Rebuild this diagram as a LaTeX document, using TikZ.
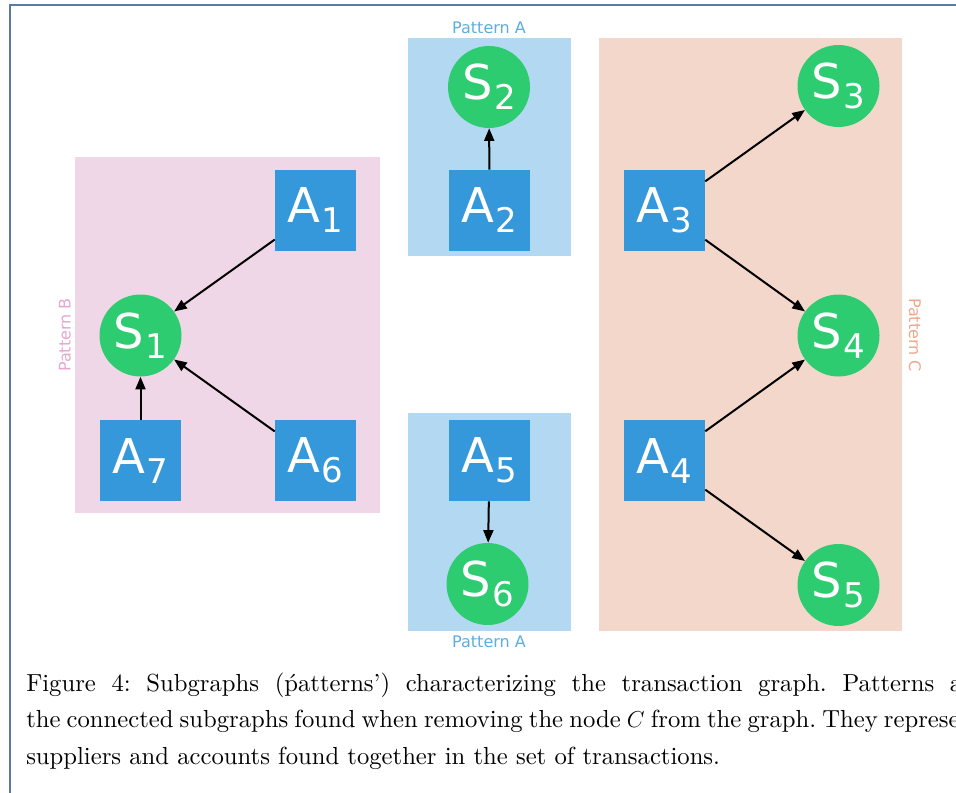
\documentclass[tikz,border=0pt]{standalone}
\usepackage{fontspec}
\newfontfamily\dejavu{DejaVu Sans}
\newfontfamily\capfont{lmroman10-regular.otf}[Ligatures=TeX]
\usetikzlibrary{arrows.meta}

\definecolor{acct}{HTML}{3498DB}
\definecolor{supp}{HTML}{2ECC71}
\definecolor{patA}{HTML}{B3D8F1}
\definecolor{patB}{HTML}{F0D7E8}
\definecolor{patC}{HTML}{F4D7CB}
\definecolor{labA}{HTML}{5DADE2}
\definecolor{labB}{HTML}{E6A6D0}
\definecolor{labC}{HTML}{EDA88C}
\definecolor{framecol}{HTML}{5A7AA6}

\newcommand{\nlabel}[2]{{\dejavu\fontsize{36}{36}\selectfont #1\kern1pt\raisebox{-7.5pt}{\fontsize{25.5}{25.5}\selectfont #2}}}

\tikzset{
  acctbox/.style={rectangle, fill=acct, text=white, minimum size=60.75pt, inner sep=0pt},
  suppnode/.style={circle, fill=supp, text=white, minimum size=61.5pt, inner sep=0pt},
  flow/.style={line width=1.5pt, -{Triangle[length=9.5pt,width=7.5pt]}},
  patlabel/.style={font=\dejavu\fontsize{12}{12}\selectfont, inner sep=0pt},
  captionline/.style={anchor=base west, inner sep=0pt, font=\capfont\fontsize{18.5}{27}\selectfont\frenchspacing}
}

\begin{document}
\begin{tikzpicture}[x=0.75pt, y=-0.75pt]
  \useasboundingbox (0,0) rectangle (956,792);
  \clip (0,0) rectangle (956,792);

  % frame
  \draw[framecol, line width=1.5pt] (9.5,800) -- (9.5,5.5) -- (960,5.5);

  % pattern backgrounds
  \fill[patB] (75,157) rectangle (380,513);
  \fill[patA] (408,38) rectangle (571,256);
  \fill[patA] (408,413) rectangle (571,631);
  \fill[patC] (599,38) rectangle (902,631);

  % pattern labels
  \node[patlabel, text=labA] (labA1) at (489,28) {Pattern A};
  \node[patlabel, text=labA] (labA2) at (489,642) {Pattern A};
  \node[patlabel, text=labB, rotate=90] (labB) at (65,335) {Pattern B};
  \node[patlabel, text=labC, rotate=-90] (labC) at (915,335) {Pattern C};

  % accounts
  \node[acctbox] (A1) at (315.5,210.5) {\nlabel{A}{1}};
  \node[acctbox] (A2) at (489.5,210.5) {\nlabel{A}{2}};
  \node[acctbox] (A3) at (664.5,210.5) {\nlabel{A}{3}};
  \node[acctbox] (A7) at (140.5,460.5) {\nlabel{A}{7}};
  \node[acctbox] (A6) at (315.5,460.5) {\nlabel{A}{6}};
  \node[acctbox] (A5) at (489.5,460.5) {\nlabel{A}{5}};
  \node[acctbox] (A4) at (664.5,460.5) {\nlabel{A}{4}};

  % suppliers
  \node[suppnode] (S2) at (489,87) {\nlabel{S}{2}};
  \node[suppnode] (S3) at (838.5,86) {\nlabel{S}{3}};
  \node[suppnode] (S1) at (140.5,335.5) {\nlabel{S}{1}};
  \node[suppnode] (S4) at (838.5,335.5) {\nlabel{S}{4}};
  \node[suppnode] (S6) at (487.5,584) {\nlabel{S}{6}};
  \node[suppnode] (S5) at (838.5,585) {\nlabel{S}{5}};

  % transactions
  \draw[flow] (A1) -- (S1);
  \draw[flow] (A6) -- (S1);
  \draw[flow] (A7) -- (S1);
  \draw[flow] (A2) -- (S2);
  \draw[flow] (A3) -- (S3);
  \draw[flow] (A3) -- (S4);
  \draw[flow] (A4) -- (S4);
  \draw[flow] (A4) -- (S5);
  \draw[flow] (A5) -- (S6);

  % caption (justified lines run past the right edge)
  \node[captionline] (cap1) at (26,691) {\makebox[702pt][s]{Figure 4: Subgraphs (\'patterns') characterizing the transaction graph. Patterns a}};
  \node[captionline] (cap2) at (26,727.5) {\makebox[700pt][s]{the connected subgraphs found when removing the node $C$ from the graph. They represe}};
  \node[captionline] (cap3) at (26,764) {suppliers and accounts found together in the set of transactions.};
\end{tikzpicture}
\end{document}
